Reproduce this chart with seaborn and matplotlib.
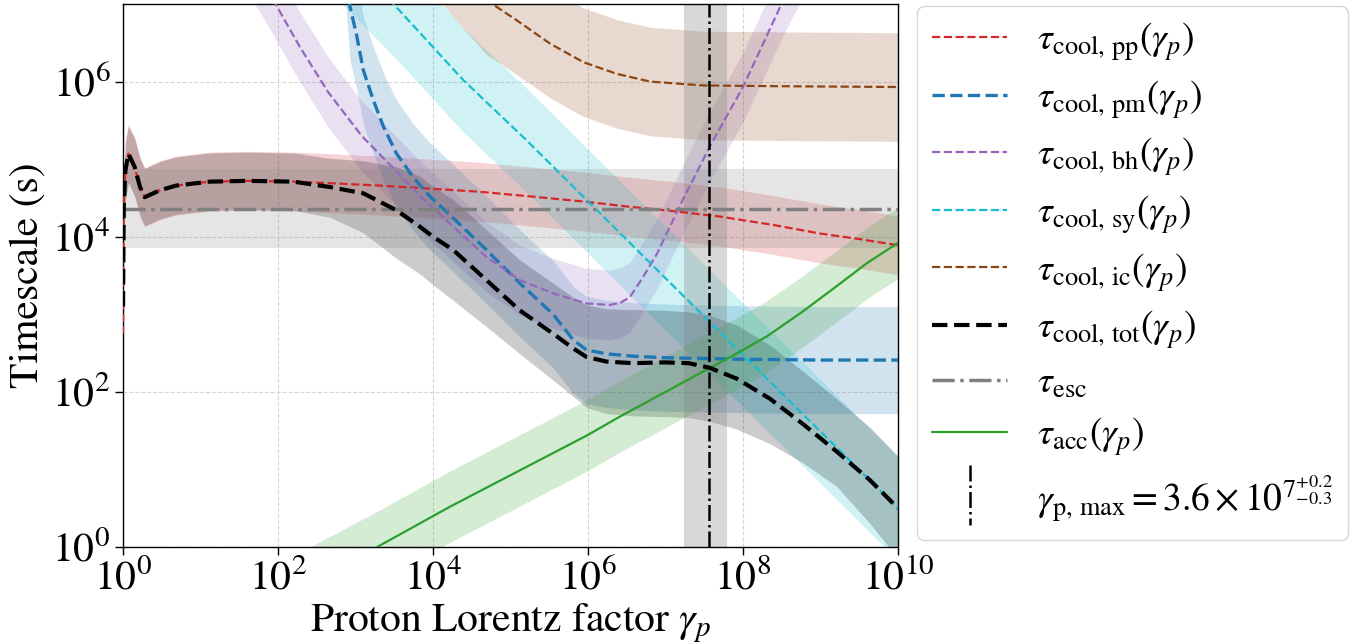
import numpy as np
import pandas as pd
import matplotlib
matplotlib.use("Agg")
import matplotlib.pyplot as plt
import seaborn as sns
from matplotlib.lines import Line2D
from matplotlib.legend_handler import HandlerBase
from matplotlib.ticker import FixedLocator, NullLocator, LogFormatterSciNotation

# ---------------- data (log10 of gamma_p, log10 of timescale in s) ----------------
pp_lg = [0.0005, 0.01, 0.03, 0.07, 0.15, 0.22, 0.28, 0.48, 0.69, 1.12, 1.6, 2.2, 2.67, 3.3, 3.96,
         4.6, 5.25, 5.98, 6.5, 7.1, 7.7, 8.4, 9.0, 9.5, 10.0]
pp_lt = [2.75, 4.4, 4.85, 5.07, 4.9, 4.64, 4.51, 4.6, 4.66, 4.71, 4.72, 4.71, 4.69, 4.66, 4.62,
         4.58, 4.52, 4.45, 4.39, 4.33, 4.26, 4.15, 4.04, 3.97, 3.89]
pp_err = 0.38

pm_lg = [2.88, 2.93, 3.01, 3.10, 3.23, 3.36, 3.53, 3.75, 3.96, 4.22, 4.69, 5.12, 5.55, 5.81, 5.98,
         6.24, 6.58, 7.0, 8.0, 9.0, 10.0]
pm_lt = [7.6, 6.96, 6.62, 6.15, 5.76, 5.42, 5.07, 4.76, 4.52, 4.28, 3.83, 3.40, 3.0, 2.67, 2.54,
         2.49, 2.46, 2.44, 2.42, 2.41, 2.41]
pm_err = 0.69

bh_lg = [1.67, 1.94, 2.28, 2.65, 3.08, 3.53, 3.83, 4.0, 4.26, 4.69, 5.12, 5.55, 5.98, 6.28, 6.42,
         6.54, 6.71, 6.89, 7.21, 7.57, 8.0, 8.52, 8.8]
bh_lt = [7.5, 7.05, 6.45, 5.86, 5.30, 4.84, 4.53, 4.37, 4.13, 3.74, 3.44, 3.27, 3.14, 3.12, 3.15,
         3.22, 3.48, 3.78, 4.45, 5.16, 5.93, 7.05, 7.6]
bh_err = 0.45

sy_lg = [2.8, 3.49, 4.39, 5.21, 7.54, 10.0]
sy_lt = [7.7, 7.0, 6.02, 5.24, 2.93, 0.5]
sy_err = 0.67

ic_lg = [4.0, 4.22, 4.69, 5.08, 5.51, 5.94, 6.37, 6.80, 7.49, 8.5, 10.0]
ic_lt = [7.85, 7.58, 7.05, 6.79, 6.49, 6.25, 6.10, 6.0, 5.95, 5.94, 5.93]
ic_err = 0.70

tot_lg = [0.0005, 0.01, 0.03, 0.07, 0.15, 0.22, 0.28, 0.48, 0.69, 1.12, 1.6, 2.2, 2.67, 3.1, 3.53,
          3.83, 4.0, 4.26, 4.69, 5.12, 5.55, 5.81, 5.98, 6.24, 6.58, 7.0, 7.3, 7.57, 7.92, 8.35,
          8.78, 9.21, 9.64, 10.0]
tot_lt = [3.1, 4.4, 4.85, 5.07, 4.9, 4.64, 4.51, 4.6, 4.66, 4.71, 4.72, 4.71, 4.64, 4.56, 4.34,
          4.13, 4.0, 3.83, 3.44, 3.05, 2.75, 2.56, 2.45, 2.39, 2.37, 2.38, 2.37, 2.31, 2.17, 1.91,
          1.58, 1.23, 0.86, 0.50]
tot_lo = [2.73, 4.03, 4.48, 4.70, 4.53, 4.27, 4.14, 4.23, 4.29, 4.34, 4.35, 4.34, 4.25, 4.05, 3.72,
          3.52, 3.38, 3.18, 2.84, 2.49, 2.15, 1.94, 1.80, 1.72, 1.69, 1.68, 1.67, 1.62, 1.52, 1.33,
          1.08, 0.78, 0.30, -0.15]
tot_hi = [3.47, 4.77, 5.22, 5.42, 5.27, 5.01, 4.88, 4.97, 5.03, 5.08, 5.09, 5.08, 5.01, 4.98, 4.90,
          4.78, 4.65, 4.48, 4.09, 3.70, 3.40, 3.22, 3.12, 3.07, 3.06, 3.05, 3.03, 2.99, 2.86, 2.60,
          2.26, 1.91, 1.54, 1.17]

esc_lg = [0.0, 10.0]
esc_lt = [4.36, 4.36]
esc_err = 0.51

acc_lg = [2.41, 3.28, 4.22, 5.99, 6.41, 7.445, 7.875, 8.30, 8.735, 9.165, 9.60, 10.0]
acc_lt = [-0.46, 0.0, 0.52, 1.44, 1.68, 2.24, 2.47, 2.71, 3.01, 3.33, 3.66, 3.92]
acc_err = 0.46

gmax = 3.6e7
gmax_lo, gmax_hi = 1.73e7, 6.3e7

labels = [r"$\tau_{\mathrm{cool,\,pp}}(\gamma_p)$",
          r"$\tau_{\mathrm{cool,\,pm}}(\gamma_p)$",
          r"$\tau_{\mathrm{cool,\,bh}}(\gamma_p)$",
          r"$\tau_{\mathrm{cool,\,sy}}(\gamma_p)$",
          r"$\tau_{\mathrm{cool,\,ic}}(\gamma_p)$",
          r"$\tau_{\mathrm{cool,\,tot}}(\gamma_p)$",
          r"$\tau_{\mathrm{esc}}$",
          r"$\tau_{\mathrm{acc}}(\gamma_p)$",
          r"$\gamma_{\mathrm{p,\,max}}=3.6\times10^{7^{+0.2}_{-0.3}}$"]
xticks = [1e0, 1e2, 1e4, 1e6, 1e8, 1e10]
yticks = [1e0, 1e2, 1e4, 1e6]

# ---------------- style ----------------
sns.set_theme(style="ticks")
plt.rcParams.update({
    "font.family": ["STIXGeneral", "DejaVu Serif"],
    "mathtext.fontset": "stix",
    "axes.edgecolor": "black",
    "xtick.color": "black",
    "ytick.color": "black",
    "text.color": "black",
    "axes.labelcolor": "black",
})

fig = plt.figure(figsize=(13.69, 6.43), dpi=100)
ax = fig.add_axes([123 / 1369, 96 / 643, 775 / 1369, 543 / 643])
ax.set_xscale("log")
ax.set_yscale("log")

FS = 30
LFS = 27

def series(lg, lt, color, ls, lw, err=None, lo=None, hi=None, z=3):
    x = 10.0 ** np.asarray(lg, float)
    y = 10.0 ** np.asarray(lt, float)
    if err is not None:
        ylo, yhi = y / 10.0 ** err, y * 10.0 ** err
    else:
        ylo, yhi = 10.0 ** np.asarray(lo, float), 10.0 ** np.asarray(hi, float)
    ax.fill_between(x, ylo, yhi, color=color, alpha=0.2, lw=0, zorder=1)
    df = pd.DataFrame({"g": x, "t": y})
    sns.lineplot(data=df, x="g", y="t", ax=ax, color=color, linestyle=ls, linewidth=lw,
                 sort=False, estimator=None, zorder=z)
    return Line2D([], [], color=color, linestyle=ls, linewidth=lw)

handles = []
handles.append(series(pp_lg, pp_lt, "#d62728", "--", 1.6, err=pp_err))
handles.append(series(pm_lg, pm_lt, "#1f77b4", "--", 2.4, err=pm_err))
handles.append(series(bh_lg, bh_lt, "#9467bd", "--", 1.6, err=bh_err))
handles.append(series(sy_lg, sy_lt, "#17becf", "--", 1.6, err=sy_err))
handles.append(series(ic_lg, ic_lt, "#8B4513", "--", 1.6, err=ic_err))
handles.append(series(tot_lg, tot_lt, "black", "--", 3.0, lo=tot_lo, hi=tot_hi, z=4))
handles.append(series(esc_lg, esc_lt, "gray", "-.", 2.5, err=esc_err))
handles.append(series(acc_lg, acc_lt, "#2ca02c", "-", 1.6, err=acc_err))

ax.axvspan(gmax_lo, gmax_hi, color="gray", alpha=0.3, lw=0, zorder=1.5)
ax.axvline(gmax, color="black", linestyle="-.", linewidth=1.8, zorder=5)
vh = Line2D([], [], color="black", linestyle="-.", linewidth=1.8)
handles.append(vh)


class HandlerVLine(HandlerBase):
    def create_artists(self, legend, orig_handle, xdescent, ydescent, width, height,
                       fontsize, trans):
        x = -xdescent + width / 2
        ln = Line2D([x, x], [-ydescent + 1.8 * height, -ydescent - 0.5 * height],
                    color="black", linestyle="-.", linewidth=1.8)
        ln.set_transform(trans)
        return [ln]


ax.set_xlim(1, 1e10)
ax.set_ylim(1, 1e7)
ax.xaxis.set_major_locator(FixedLocator(xticks))
ax.yaxis.set_major_locator(FixedLocator(yticks))
ax.xaxis.set_major_formatter(LogFormatterSciNotation())
ax.yaxis.set_major_formatter(LogFormatterSciNotation())
ax.xaxis.set_minor_locator(NullLocator())
ax.yaxis.set_minor_locator(NullLocator())
ax.tick_params(axis="both", which="major", labelsize=FS, length=6, width=1, direction="out",
               pad=3)
ax.grid(True, which="major", linestyle="--", color="#cccccc", linewidth=0.8, alpha=0.8)
for s in ax.spines.values():
    s.set_linewidth(1.0)
    s.set_color("black")
    s.set_visible(True)

ax.set_xlabel(r"Proton Lorentz factor $\gamma_p$", fontsize=FS, labelpad=2)
ax.set_ylabel("Timescale (s)", fontsize=FS, labelpad=4)

leg = fig.legend(handles, labels, loc="upper left", bbox_to_anchor=(917 / 1369, 1 - 6 / 643),
                 bbox_transform=fig.transFigure, borderaxespad=0, fontsize=LFS,
                 handlelength=2.0, handletextpad=0.8, labelspacing=0.4, frameon=True,
                 handler_map={vh: HandlerVLine()})

fig.savefig("out.png", dpi=100)
